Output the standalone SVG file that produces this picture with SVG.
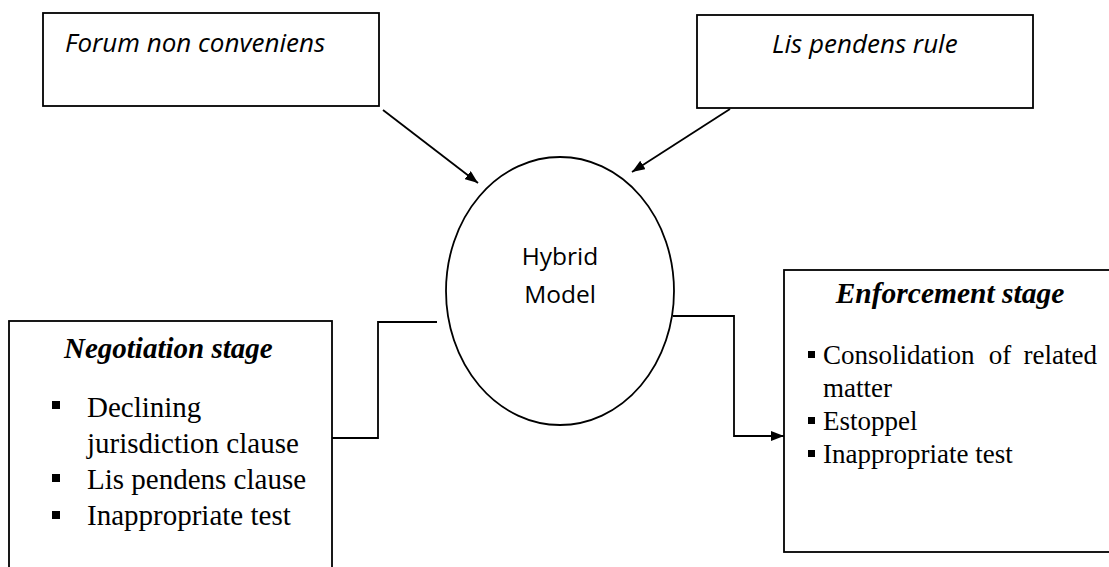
<svg xmlns="http://www.w3.org/2000/svg" width="1109" height="567" viewBox="0 0 1109 567">
<style>
.box{fill:#fff;stroke:#000;stroke-width:1.8}
.ln{fill:none;stroke:#000;stroke-width:1.8}
.sans{font-family:"Open Sans","Liberation Sans",sans-serif;fill:#000}
.serif{font-family:"Liberation Serif","Times New Roman",serif;fill:#000}
.ttl{font-weight:bold;font-style:italic}
</style>
<defs>
<marker id="ah" viewBox="0 0 13 10" refX="13" refY="5" markerWidth="13" markerHeight="10" markerUnits="userSpaceOnUse" orient="auto">
<path d="M0,0 L13,5 L0,10 Z" fill="#000"/>
</marker>
</defs>
<rect width="1109" height="567" fill="#fff"/>
<g id="connectors">
<line class="ln" x1="383" y1="110" x2="478" y2="183" marker-end="url(#ah)"/>
<line class="ln" x1="730" y1="109" x2="632" y2="172" marker-end="url(#ah)"/>
<path class="ln" d="M332,438 H378 V322 H437"/>
<path class="ln" d="M673,316 H734 V436 H784" marker-end="url(#ah)"/>
</g>
<g id="forum">
<rect class="box" x="43" y="13" width="336" height="93"/>
<text class="sans" x="65" y="52" font-size="26" font-style="italic">Forum non conveniens</text>
</g>
<g id="lis">
<rect class="box" x="697" y="15" width="336" height="93"/>
<text class="sans" x="772" y="53" font-size="26" font-style="italic">Lis pendens rule</text>
</g>
<g id="hybrid">
<ellipse class="box" cx="560" cy="291" rx="114" ry="134"/>
<text class="sans" x="560" y="265" font-size="24.5" text-anchor="middle">Hybrid</text>
<text class="sans" x="560" y="303" font-size="24.5" text-anchor="middle">Model</text>
</g>
<g id="negotiation">
<rect class="box" x="9" y="321" width="323" height="260"/>
<text class="serif ttl" x="64" y="358" font-size="29">Negotiation stage</text>
<rect x="52" y="401" width="8" height="8" fill="#000"/>
<rect x="52" y="474" width="8" height="8" fill="#000"/>
<rect x="52" y="511" width="8" height="8" fill="#000"/>
<g class="serif" font-size="29">
<text x="87" y="417">Declining</text>
<text x="87" y="453">jurisdiction clause</text>
<text x="87" y="489">Lis pendens clause</text>
<text x="87" y="525">Inappropriate test</text>
</g>
</g>
<g id="enforcement">
<rect class="box" x="784" y="270" width="330" height="282"/>
<text class="serif ttl" x="950" y="303" font-size="29.5" text-anchor="middle">Enforcement stage</text>
<rect x="808" y="351" width="7" height="7" fill="#000"/>
<rect x="808" y="417" width="7" height="7" fill="#000"/>
<rect x="808" y="450" width="7" height="7" fill="#000"/>
<g class="serif" font-size="27">
<text x="823" y="364">Consolidation</text>
<text x="1000" y="364" text-anchor="middle">of</text>
<text x="1097" y="364" text-anchor="end">related</text>
<text x="823" y="397">matter</text>
<text x="823" y="430">Estoppel</text>
<text x="823" y="463">Inappropriate test</text>
</g>
</g>
</svg>
